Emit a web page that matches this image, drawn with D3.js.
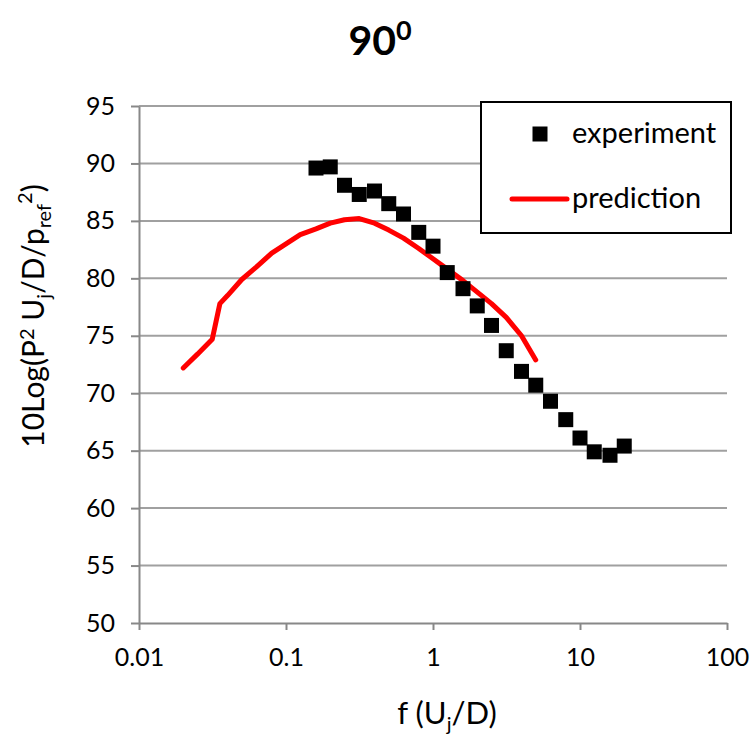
<!DOCTYPE html>
<html>
<head>
<meta charset="utf-8">
<script src="https://cdnjs.cloudflare.com/ajax/libs/d3/7.8.5/d3.min.js"></script>
<style>
  html, body { margin: 0; padding: 0; background: #fff; }
  svg { display: block; font-family: Lato, 'Open Sans', sans-serif; }
</style>
</head>
<body>
<svg id="chart" width="752" height="736"></svg>
<script>
// measured points (third-octave bands)
var expFreq = [0.16, 0.2, 0.25, 0.315, 0.4, 0.5, 0.63, 0.8, 1, 1.25, 1.6, 2, 2.5, 3.15, 4, 5, 6.3, 8, 10, 12.5, 16, 20];
var expLevel = [89.6, 89.7, 88.1, 87.3, 87.6, 86.5, 85.6, 84.0, 82.8, 80.5, 79.1, 77.6, 75.9, 73.7, 71.9, 70.7, 69.3, 67.7, 66.1, 64.9, 64.6, 65.4];

// prediction curve
var predFreq = [0.02, 0.025, 0.0315, 0.0355, 0.04, 0.05, 0.063, 0.08, 0.1, 0.125, 0.16, 0.2, 0.25, 0.315, 0.4, 0.5, 0.63, 0.8, 1, 1.25, 1.6, 2, 2.5, 3.15, 4, 5];
var predLevel = [72.2, 73.4, 74.7, 77.8, 78.5, 79.9, 81.0, 82.2, 83.0, 83.8, 84.3, 84.8, 85.1, 85.2, 84.8, 84.2, 83.5, 82.6, 81.7, 80.8, 79.8, 78.8, 77.8, 76.6, 75.0, 72.9];

var xTicks = [0.01, 0.1, 1, 10, 100];
var xTickLabels = ['0.01', '0.1', '1', '10', '100'];
var yTicks = [50, 55, 60, 65, 70, 75, 80, 85, 90, 95];

(function (d3) {
  'use strict';
  var svg = d3.select('#chart');
  var left = 139, right = 727, top = 106, bottom = 623;

  var x = d3.scaleLog().domain([0.01, 100]).range([left, right]);
  var y = d3.scaleLinear().domain([50, 95]).range([bottom, top]);

  /** gridlines */
  svg.append('g').selectAll('line').data(yTicks.slice(1)).enter().append('line')
    .attr('x1', left).attr('x2', right)
    .attr('y1', function (d) { return y(d); }).attr('y2', function (d) { return y(d); })
    .attr('stroke', '#a0a0a0').attr('stroke-width', 2);

  /** axes */
  var yAxis = svg.append('g').attr('transform', 'translate(' + left + ',0)')
    .call(d3.axisLeft(y).tickValues(yTicks).tickSize(8).tickSizeOuter(0).tickPadding(16));
  var xAxis = svg.append('g').attr('transform', 'translate(0,' + bottom + ')')
    .call(d3.axisBottom(x).tickValues(xTicks).tickSize(7).tickSizeOuter(0).tickPadding(18)
      .tickFormat(function (d, i) { return xTickLabels[i]; }));

  [yAxis, xAxis].forEach(function (axis) {
    axis.select('.domain').attr('stroke', '#888').attr('stroke-width', 2);
    axis.selectAll('.tick line').attr('stroke', '#888').attr('stroke-width', 2);
    axis.selectAll('.tick text').attr('fill', '#000')
      .style('font-family', 'Lato, sans-serif').style('font-size', '25px');
  });

  /** prediction line */
  var line = d3.line()
    .x(function (d) { return x(d); })
    .y(function (d, i) { return y(predLevel[i]); });
  svg.append('path').datum(predFreq)
    .attr('d', line).attr('fill', 'none').attr('stroke', '#ff0000')
    .attr('stroke-width', 5).attr('stroke-linecap', 'round').attr('stroke-linejoin', 'round');

  /** experiment squares */
  var sq = 15;
  svg.append('g').selectAll('rect').data(expFreq).enter().append('rect')
    .attr('x', function (d) { return x(d) - sq / 2; })
    .attr('y', function (d, i) { return y(expLevel[i]) - sq / 2; })
    .attr('width', sq).attr('height', sq).attr('fill', '#000');

  /** title */
  var title = svg.append('text').attr('x', 380).attr('y', 55).attr('text-anchor', 'middle')
    .style('font-size', '41px').style('font-weight', 'bold');
  title.append('tspan').text('90');
  title.append('tspan').attr('dy', -15).style('font-size', '27px').text('0');

  /** axis titles */
  var yt = svg.append('text').attr('transform', 'translate(44,316) rotate(-90)')
    .attr('text-anchor', 'middle').style('font-size', '30px');
  yt.append('tspan').text('10Log(P');
  yt.append('tspan').attr('dy', -10).style('font-size', '20px').text('2');
  yt.append('tspan').attr('dy', 10).text(' U');
  yt.append('tspan').attr('dy', 7).style('font-size', '20px').text('j');
  yt.append('tspan').attr('dy', -7).text('/D/p');
  yt.append('tspan').attr('dy', 7).style('font-size', '20px').text('ref');
  yt.append('tspan').attr('dy', -19).style('font-size', '20px').text('2');
  yt.append('tspan').attr('dy', 12).text(')');

  var xt = svg.append('text').attr('x', 447).attr('y', 724)
    .attr('text-anchor', 'middle').style('font-size', '31px');
  xt.append('tspan').text('f (U');
  xt.append('tspan').attr('dy', 7).style('font-size', '20px').text('j');
  xt.append('tspan').attr('dy', -7).text('/D)');

  /** legend */
  var legend = svg.append('g');
  legend.append('rect').attr('x', 481).attr('y', 102).attr('width', 250).attr('height', 131)
    .attr('fill', '#fff').attr('stroke', '#000').attr('stroke-width', 2);
  legend.append('rect').attr('x', 540 - sq / 2).attr('y', 134 - sq / 2)
    .attr('width', sq).attr('height', sq).attr('fill', '#000');
  legend.append('line').attr('x1', 512).attr('x2', 567).attr('y1', 199).attr('y2', 199)
    .attr('stroke', '#ff0000').attr('stroke-width', 5).attr('stroke-linecap', 'round');
  legend.append('text').attr('x', 572).attr('y', 143).style('font-size', '29px').text('experiment');
  legend.append('text').attr('x', 572).attr('y', 208).style('font-size', '29px').text('prediction');
})(d3);
</script>
</body>
</html>
